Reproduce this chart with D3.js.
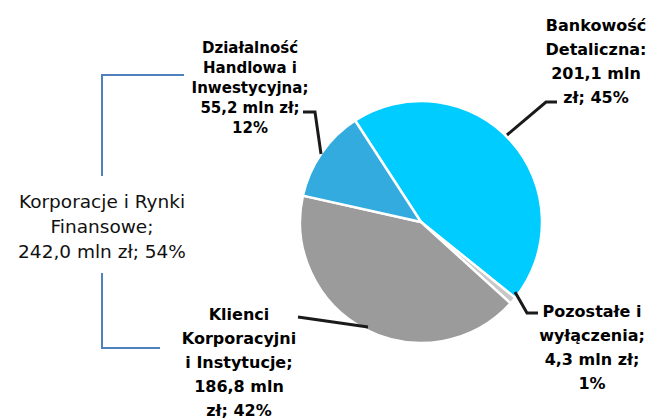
<!DOCTYPE html>
<html>
<head>
<meta charset="utf-8">
<script src="https://cdn.jsdelivr.net/npm/d3@7"></script>
<style>
  body { margin: 0; background: #fff; }
  svg { display: block; }
</style>
</head>
<body>
<div id="chart"></div>
<script>
// ---------------------------------DATA----------------------------------------
var categories = ["Bankowość Detaliczna", "Pozostałe i wyłączenia",
                  "Klienci Korporacyjni i Instytucje", "Działalność Handlowa i Inwestycyjna"];
var values = [201.1, 4.3, 186.8, 55.2];      // mln zł
var percents = [45, 1, 42, 12];              // %
var colors = ["#00CCFF", "#C8C8C8", "#9B9B9B", "#33ABDF"];

// how each label is broken into lines (name parts, then value / percent parts)
var nameLines = [
  ["Bankowość", "Detaliczna:"],
  ["Pozostałe i", "wyłączenia;"],
  ["Klienci", "Korporacyjni", "i Instytucje;"],
  ["Działalność", "Handlowa i", "Inwestycyjna;"]
];
var valueSplit = [true, false, true, false]; // true: "x mln" / "zł; p%"

// group total (bracket text)
var groupName = ["Korporacje i Rynki", "Finansowe;"];
var groupValue = 242.0, groupPercent = 54;

// -------------------------------CANVAS----------------------------------------
var svgWidth = 650, svgHeight = 419;
var svg = d3.select("#chart").append("svg")
  .attr("width", svgWidth)
  .attr("height", svgHeight);

var fmt = function(v) { return d3.format(".1f")(v).replace(".", ","); };

// ---------------------------------PIE-----------------------------------------
var cx = 421, cy = 222, radius = 121;
var start = -33 * Math.PI / 180;

var pie = d3.pie().sort(null).startAngle(start).endAngle(start + 2 * Math.PI);
var arc = d3.arc().innerRadius(0).outerRadius(radius);

var pieGroup = svg.append("g").attr("transform", `translate(${cx}, ${cy})`);
pieGroup.selectAll("path")
  .data(pie(values))
  .enter()
  .append("path")
    .attr("d", arc)
    .attr("fill", (d, i) => colors[i])
    .attr("stroke", "#fff")
    .attr("stroke-width", 2.5);

// -------------------------------LABELS----------------------------------------
// label layout: centre x, first baseline, line step, font size
var layout = [
  {x: 596, y: 31, step: 24, size: 16},
  {x: 592, y: 317, step: 24, size: 16},
  {x: 239, y: 320, step: 24, size: 16},
  {x: 250, y: 53, step: 20, size: 15}
];

// leader lines (label -> slice)
var leaders = [
  [[507, 135], [546, 102], [557, 102]],
  [[515, 292], [527, 313], [538, 313]],
  [[298, 317], [368, 327]],
  [[303, 112], [315, 112], [321, 154]]
];

svg.selectAll(".leader")
  .data(leaders)
  .enter()
  .append("path")
    .attr("class", "leader")
    .attr("d", d => d3.line()(d))
    .attr("fill", "none")
    .attr("stroke", "#1a1a1a")
    .attr("stroke-width", 3);

categories.forEach(function(c, i) {
  var lines = nameLines[i].slice();
  if (valueSplit[i]) {
    lines.push(fmt(values[i]) + " mln");
    lines.push("zł; " + percents[i] + "%");
  } else {
    lines.push(fmt(values[i]) + " mln zł;");
    lines.push(percents[i] + "%");
  }
  var L = layout[i];
  var t = svg.append("text")
    .attr("text-anchor", "middle")
    .attr("font-family", "DejaVu Sans, sans-serif")
    .attr("font-weight", "bold")
    .attr("font-size", L.size)
    .attr("fill", "#000");
  lines.forEach(function(s, j) {
    t.append("tspan").attr("x", L.x).attr("y", L.y + j * L.step).text(s);
  });
});

// ------------------------------BRACKET----------------------------------------
svg.append("path")
  .attr("d", "M184,75 H102 V176 M102,273 V348 H160")
  .attr("fill", "none")
  .attr("stroke", "#4F81BD")
  .attr("stroke-width", 2);

var groupLines = groupName.concat([fmt(groupValue) + " mln zł; " + groupPercent + "%"]);
var gt = svg.append("text")
  .attr("text-anchor", "middle")
  .attr("font-family", "DejaVu Sans, sans-serif")
  .attr("font-size", 18.5)
  .attr("fill", "#111");
groupLines.forEach(function(s, j) {
  gt.append("tspan").attr("x", 102).attr("y", 208 + j * 25).text(s);
});
</script>
</body>
</html>
